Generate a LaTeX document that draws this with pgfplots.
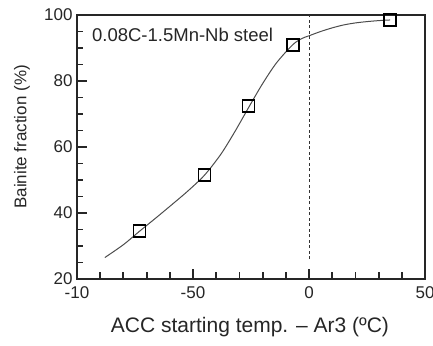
\documentclass[border=0pt]{standalone}
\usepackage{pgfplots}
\pgfplotsset{compat=1.18}
\usepackage{fontspec}
\setmainfont{Liberation Sans}
\begin{document}
\begin{tikzpicture}
\useasboundingbox (-77pt,-66pt) rectangle (356pt,279pt);
\begin{axis}[
  scale only axis, width=348pt, height=264pt,
  xmin=-100, xmax=50, ymin=20, ymax=100,
  xtick={-100,-50,0,50}, xticklabels={-10,-50,0,50},
  ytick={20,40,60,80,100},
  tick align=inside,
  major tick length=0pt, minor tick length=0pt,
  axis line style={line width=1.6pt, black!85},
  /pgf/number format/assume math mode=true,
  ticklabel style={font=\fontsize{17}{19}\selectfont, black!85},
  xticklabel style={yshift=-4pt},
  yticklabel style={xshift=-1pt},
  xlabel={ACC starting temp. – Ar3 (ºC)},
  ylabel={Bainite fraction (\%)},
  every axis x label/.style={at={(axis description cs:0.497,-0.182)}, anchor=center, font=\fontsize{21}{23}\selectfont, black!85},
  every axis y label/.style={at={(axis description cs:-0.158,0.538)}, anchor=center, rotate=90, font=\fontsize{17}{19}\selectfont, black!85},
  clip=false,
]
\addplot[black!70, line width=1pt, smooth] coordinates {
  (-88,26.5) (-80,30.4) (-73,34.5) (-66,38.5) (-59,42.6) (-52,46.8) (-45,51.5) (-38,57.8) (-32,64.6) (-26,72) (-20,79.2) (-14,85.5) (-7,91) (-3,92.9) (0,93.7) (5,95) (10,96.1) (15,97) (20,97.6) (25,98) (30,98.3) (35,98.5)
};
\addplot[black!80, line width=1pt, dashed, dash pattern=on 3pt off 2.5pt] coordinates {(0,26) (0,100)};
\pgfplotsinvokeforeach{-90,-80,-70,-60,-40,-30,-20,-10,10,20,30,40}{
  \draw[black!85, line width=1.8pt] (axis cs:#1,20) -- (axis cs:#1,22);
}
\pgfplotsinvokeforeach{-50,0}{
  \draw[black!85, line width=1.8pt] (axis cs:#1,20) -- (axis cs:#1,23);
}
\pgfplotsinvokeforeach{25,30,35,45,50,55,65,70,75,85,90,95}{
  \draw[black!85, line width=1.8pt] (axis cs:-100,#1) -- (axis cs:-97.2,#1);
}
\pgfplotsinvokeforeach{40,60,80}{
  \draw[black!85, line width=1.8pt] (axis cs:-100,#1) -- (axis cs:-95.8,#1);
}
\addplot[only marks, mark=square, mark size=6pt, mark options={line width=1.6pt, black, fill=white}] coordinates {
  (-73,34.5) (-45,51.5) (-26,72.4) (-7,90.9) (35,98.5)
};
\node[anchor=west, font=\fontsize{18.5}{20}\selectfont, black!85] at (axis cs:-95,94) {0.08C-1.5Mn-Nb steel};
\end{axis}
\end{tikzpicture}
\end{document}
